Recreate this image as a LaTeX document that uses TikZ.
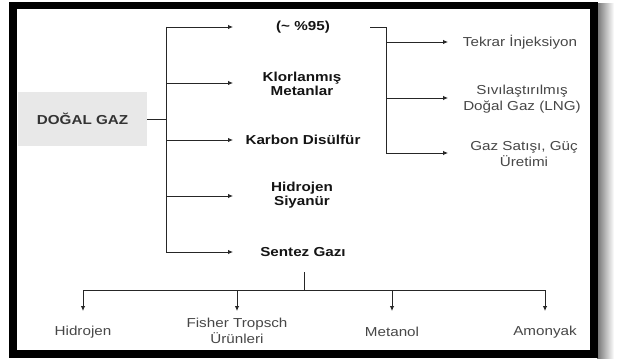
\documentclass[tikz,border=0pt]{standalone}
\usepackage{fontspec}
\setmainfont{Liberation Sans}[FakeStretch=1.17]
\usetikzlibrary{arrows.meta}
\begin{document}
\begin{tikzpicture}[x=1pt,y=-1pt,
  mid/.style={font=\fontsize{13}{14.5}\selectfont\bfseries, align=center, text=black!92, inner sep=0pt},
  side/.style={font=\fontsize{13}{16}\selectfont, align=center, text=black!72, inner sep=0pt},
  conn/.style={draw=black!85, line width=0.9pt},
  arr/.style={conn, -{Latex[length=5pt,width=4.5pt]}}]
\useasboundingbox (0,0) rectangle (617,358);
% frame and shadow
\shade[left color=black!55, right color=white] (597,4) rectangle (614,358);
\fill[black] (9,2) rectangle (598,358);
\fill[white] (17,9) rectangle (590,350);
% source box
\node[fill=black!9, minimum width=129pt, minimum height=54pt, inner sep=0pt,
      font=\fontsize{13}{15}\selectfont\bfseries, text=black!80] (dg) at (82.5,119) {DOĞAL GAZ};
% middle column
\node[mid] (m1) at (303,27) {(\char"007E\ \%95)};
\node[mid] (m2) at (302,84) {Klorlanmış\\Metanlar};
\node[mid] (m3) at (303,140) {Karbon Disülfür};
\node[mid] (m4) at (302,195) {Hidrojen\\Siyanür};
\node[mid] (m5) at (303,252) {Sentez Gazı};
% right column
\node[side] (r1) at (520,42) {Tekrar İnjeksiyon};
\node[side] (r2) at (522,99) {Sıvılaştırılmış\\Doğal Gaz (LNG)};
\node[side] (r3) at (524,154) {Gaz Satışı, Güç\\Üretimi};
% bottom row
\node[side] (b1) at (83,332) {Hidrojen};
\node[side] (b2) at (237,331) {Fisher Tropsch\\Ürünleri};
\node[side] (b3) at (392,332) {Metanol};
\node[side] (b4) at (545,332) {Amonyak};
% trunk coordinates
\coordinate (tj) at (166,119);
\coordinate (t1) at (166,27);
\coordinate (t2) at (166,83);
\coordinate (t3) at (166,140);
\coordinate (t4) at (166,196);
\coordinate (t5) at (166,252);
\coordinate (e1) at (233,27);
\coordinate (e2) at (233,83);
\coordinate (e3) at (233,140);
\coordinate (e4) at (233,196);
\coordinate (e5) at (233,252);
\draw[conn] (dg.east) -- (tj);
\draw[conn] (t1) -- (t5);
\foreach \i in {1,...,5} {\draw[arr] (t\i) -- (e\i);}
% right branch
\coordinate (rs) at (370,27);
\coordinate (rc) at (386,27);
\coordinate (s1) at (386,42);
\coordinate (s2) at (386,98);
\coordinate (s3) at (386,153);
\coordinate (f1) at (448,42);
\coordinate (f2) at (448,98);
\coordinate (f3) at (448,153);
\draw[conn] (rs) -- (rc) -- (s3);
\foreach \i in {1,2,3} {\draw[arr] (s\i) -- (f\i);}
% bottom branch
\coordinate (ds) at (304,272);
\coordinate (dj) at (304,290);
\coordinate (h1) at (83,290);
\coordinate (h2) at (237,290);
\coordinate (h3) at (392,290);
\coordinate (h4) at (545,290);
\coordinate (g1) at (83,311);
\coordinate (g2) at (237,311);
\coordinate (g3) at (392,311);
\coordinate (g4) at (545,311);
\draw[conn] (ds) -- (dj);
\draw[conn] (h1) -- (h4);
\foreach \i in {1,...,4} {\draw[arr] (h\i) -- (g\i);}
\end{tikzpicture}
\end{document}
